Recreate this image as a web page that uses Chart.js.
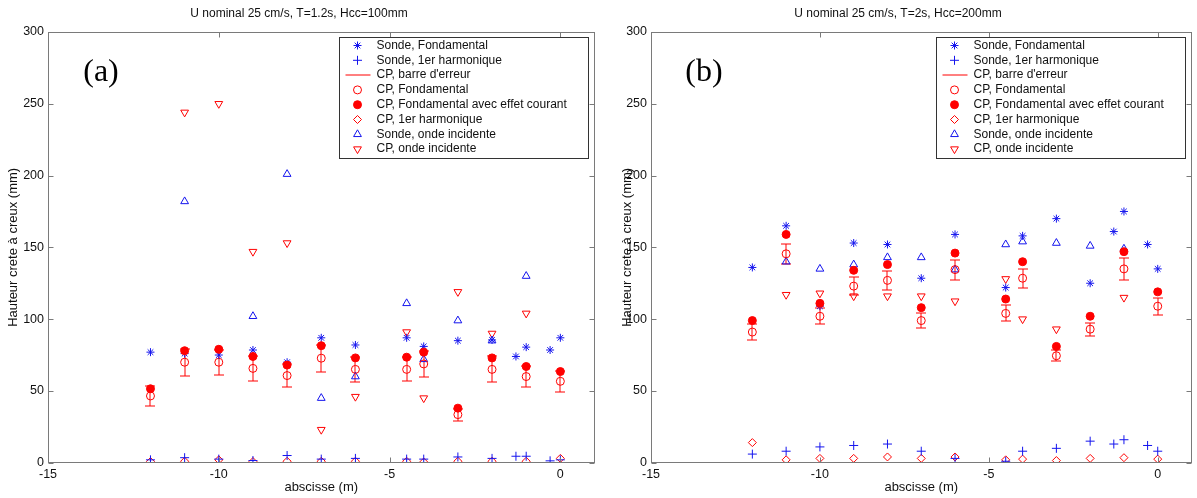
<!DOCTYPE html>
<html>
<head>
<meta charset="utf-8">
<script src="https://cdn.jsdelivr.net/npm/chart.js@4.4.0/dist/chart.umd.min.js"></script>
<style>
  html, body { margin: 0; padding: 0; background: #fff; }
  #cadre { position: relative; width: 1197px; height: 498px; }
  canvas { position: absolute; top: 0; }
  #grA { left: 0; }
  #grB { left: 600px; }
</style>
</head>
<body>
<div id="cadre">
  <canvas id="grA" width="600" height="498"></canvas>
  <canvas id="grB" width="597" height="498"></canvas>
</div>
<script>
// abscisses des points de mesure (m)
var xSonde = [-12, -11, -10, -9, -8, -7, -6, -4.5, -4, -3, -2, -1.3, -1, -0.3, 0];
var xCP = [-12, -11, -10, -9, -8, -7, -6, -4.5, -4, -3, -2, -1, 0];
var xTicks = [-15, -10, -5, 0];
var yTicks = [0, 50, 100, 150, 200, 250, 300];

var titres = ['U nominal 25 cm/s, T=1.2s, Hcc=100mm', 'U nominal 25 cm/s, T=2s, Hcc=200mm'];
var legendeTextes = ['Sonde, Fondamental', 'Sonde, 1er harmonique', "CP, barre d'erreur", 'CP, Fondamental',
  'CP, Fondamental avec effet courant', 'CP, 1er harmonique', 'Sonde, onde incidente', 'CP, onde incidente'];

// (a) T=1.2s, Hcc=100mm  -- sondes (sur xSonde)
var sondeFondA = [77, 76, 75, 78.5, 70, 87, 82, 87, 81, 85, 85.5, 74, 80.5, 78.5, 87];
var sondeHarmA = [2, 3.5, 2.5, 1.5, 5, 2.5, 3, 2.5, 2.5, 4, 3, 4.5, 4.5, 1.3, 2];
// CP (sur xCP)
var cpFondA = [46.5, 70, 70, 65.7, 60.7, 72.8, 65, 65, 68.8, 33.5, 65, 60, 56.7];
var cpErrA = [6.7, 9.3, 8.8, 8.5, 8, 9.5, 8.5, 8.4, 8.8, 4.2, 9, 7.5, 7.4];
var cpCourantA = [51.5, 78, 79, 74, 68, 81.5, 73, 73.5, 77, 38, 73, 67, 63.5];
var cpHarmA = [0.8, 1, 2, 0.8, 1, 1, 1, 1, 0.5, 1, 1, 1, 3];
var sondeIncA = [null, 182, null, 102, 201, 45, 60, 111, 72, 99, 85, 130, null];
var cpIncA = [null, 244, 250, 147, 153, 23, 46, 91, 45, 119, 90, 104, null];

// (b) T=2s, Hcc=200mm
var sondeFondB = [136, 165, 109, 153, 152, 128.5, 159, 122, 158, 170, 125, 161, 175, 152, 135];
var sondeHarmB = [6, 8, 11, 12, 13, 8, 3, 1, 8, 10, 15, 13, 16, 12, 8];
var cpFondB = [91, 145.5, 102, 123, 127, 99, 134.5, 104, 128.5, 74.5, 93, 135, 109];
var cpErrB = [5.5, 7, 5.5, 6, 6.5, 5, 7, 5.5, 6.5, 4, 4.6, 7.5, 6];
var cpCourantB = [99, 159, 111, 134, 138, 108, 146, 114, 140, 81, 102, 147, 119];
var cpHarmB = [14, 2, 3, 3, 4, 3, 4, 2, 2.5, 1.5, 3, 3.5, 2.5];
var sondeIncB = [null, 140, 135, 138, 143, 143, 134.5, 152, 154, 153, 151, 149, null];
var cpIncB = [null, 117, 118, 116, 116, 116, 112.5, 128, 100, 93, null, 115, null];

var BLEU = '#1414ee';
var ROUGE = '#ff0000';
var GRIS = '#7a7a7a';
var POLICE = '"Liberation Sans", Arial, sans-serif';

// styles des marqueurs, dans l'ordre de la légende
var styles = [
  { style: 'star', r: 4, color: BLEU, bg: 'transparent' },
  { style: 'cross', r: 4.5, color: BLEU, bg: 'transparent' },
  { line: true, color: ROUGE },
  { style: 'circle', r: 4, color: ROUGE, bg: 'transparent' },
  { style: 'circle', r: 4, color: ROUGE, bg: ROUGE },
  { style: 'rectRot', r: 4, color: ROUGE, bg: 'transparent' },
  { style: 'triangle', r: 4.5, color: BLEU, bg: 'transparent' },
  { style: 'triangle', r: 4.5, color: ROUGE, bg: 'transparent', rot: 180 }
];

function points(xs, ys) {
  var res = [];
  for (var i = 0; i < xs.length; i++) {
    if (ys[i] !== null) res.push({ x: xs[i], y: ys[i] });
  }
  return res;
}

function serie(idx, data) {
  var s = styles[idx];
  return {
    label: legendeTextes[idx],
    data: data,
    showLine: false,
    pointStyle: s.style,
    pointRadius: s.r,
    pointRotation: s.rot || 0,
    pointBorderColor: s.color,
    pointBackgroundColor: s.bg,
    pointBorderWidth: 1
  };
}

function dessinePoint(ctx, s, x, y) {
  ctx.fillStyle = s.bg;
  ctx.strokeStyle = s.color;
  ctx.lineWidth = 1;
  if (Chart.helpers && Chart.helpers.drawPoint) {
    Chart.helpers.drawPoint(ctx, { pointStyle: s.style, radius: s.r, rotation: s.rot || 0, borderWidth: 1 }, x, y);
  } else {
    ctx.beginPath();
    ctx.arc(x, y, s.r, 0, Math.PI * 2);
    ctx.fill();
    ctx.stroke();
  }
}

// barres d'erreur, dessinées sous les marqueurs
var barresErreur = {
  id: 'barresErreur',
  beforeDatasetsDraw: function (chart) {
    var o = chart.options.plugins.barresErreur;
    var ctx = chart.ctx, sx = chart.scales.x, sy = chart.scales.y;
    ctx.save();
    ctx.strokeStyle = ROUGE;
    ctx.lineWidth = 1;
    for (var i = 0; i < xCP.length; i++) {
      var px = Math.round(sx.getPixelForValue(xCP[i]));
      var y1 = Math.round(sy.getPixelForValue(o.valeurs[i] - o.erreurs[i]));
      var y2 = Math.round(sy.getPixelForValue(o.valeurs[i] + o.erreurs[i]));
      ctx.beginPath();
      ctx.moveTo(px, y1); ctx.lineTo(px, y2);
      ctx.moveTo(px - 5, y1); ctx.lineTo(px + 5, y1);
      ctx.moveTo(px - 5, y2); ctx.lineTo(px + 5, y2);
      ctx.stroke();
    }
    ctx.restore();
  }
};

// cadre de type matlab avec graduations vers l'intérieur, étiquette (a)/(b) et légende
var cadre = {
  id: 'cadre',
  afterDraw: function (chart) {
    var o = chart.options.plugins.cadre;
    var ctx = chart.ctx, ca = chart.chartArea, sx = chart.scales.x, sy = chart.scales.y;
    ctx.save();
    ctx.strokeStyle = GRIS;
    ctx.lineWidth = 1;
    var l = Math.round(ca.left) + 0.5, r = Math.round(ca.right) - 0.5;
    var t = Math.round(ca.top) + 0.5, b = Math.round(ca.bottom) - 0.5;
    ctx.strokeRect(l, t, r - l, b - t);
    ctx.beginPath();
    xTicks.forEach(function (v) {
      var px = Math.round(sx.getPixelForValue(v)) + 0.5;
      ctx.moveTo(px, b); ctx.lineTo(px, b - 5);
      ctx.moveTo(px, t); ctx.lineTo(px, t + 5);
    });
    yTicks.forEach(function (v) {
      var py = Math.round(sy.getPixelForValue(v)) + 0.5;
      ctx.moveTo(l, py); ctx.lineTo(l + 5, py);
      ctx.moveTo(r, py); ctx.lineTo(r - 5, py);
    });
    ctx.stroke();

    ctx.fillStyle = '#000';
    ctx.font = '32px "Liberation Serif", "Times New Roman", serif';
    ctx.textAlign = 'center';
    ctx.textBaseline = 'middle';
    ctx.fillText(o.etiquette, ca.left + 53, ca.top + 41);

    // légende
    var w = 249, h = 121;
    var lx = Math.round(ca.right - 7 - w) + 0.5, ly = Math.round(ca.top + 5) + 0.5;
    ctx.fillStyle = '#fff';
    ctx.fillRect(lx, ly, w, h);
    ctx.strokeStyle = '#333';
    ctx.strokeRect(lx, ly, w, h);
    ctx.font = '12px ' + POLICE;
    ctx.textAlign = 'left';
    for (var i = 0; i < legendeTextes.length; i++) {
      var yy = ly + 8 + i * 14.8;
      var s = styles[i];
      if (s.line) {
        ctx.strokeStyle = s.color;
        ctx.beginPath();
        ctx.moveTo(lx + 6, Math.round(yy));
        ctx.lineTo(lx + 31, Math.round(yy));
        ctx.stroke();
      } else {
        dessinePoint(ctx, s, lx + 18, yy);
      }
      ctx.fillStyle = '#111';
      ctx.fillText(legendeTextes[i], lx + 37, yy);
    }
    ctx.restore();
  }
};

function graphique(id, n, etiquette, d, largeurY, padTitreY, padDroite) {
  var ctx = document.getElementById(id).getContext('2d');
  return new Chart(ctx, {
    type: 'scatter',
    data: {
      datasets: [
        serie(4, points(xCP, d.courant)),
        serie(0, points(xSonde, d.sondeFond)),
        serie(3, points(xCP, d.cpFond)),
        serie(1, points(xSonde, d.sondeHarm)),
        serie(5, points(xCP, d.cpHarm)),
        serie(6, points(xCP, d.sondeInc)),
        serie(7, points(xCP, d.cpInc))
      ]
    },
    options: {
      responsive: false,
      animation: false,
      devicePixelRatio: 1,
      events: [],
      layout: { padding: { left: 0, right: padDroite, top: 0, bottom: 0 } },
      plugins: {
        legend: { display: false },
        tooltip: { enabled: false },
        title: {
          display: true,
          text: titres[n],
          color: '#111',
          font: { family: POLICE, size: 12, weight: 'normal' },
          padding: { top: 6, bottom: 11.6 }
        },
        barresErreur: { valeurs: d.cpFond, erreurs: d.err },
        cadre: { etiquette: etiquette }
      },
      scales: {
        x: {
          type: 'linear',
          min: -15,
          max: 1,
          grid: { display: false, drawTicks: false, tickLength: 0 },
          border: { display: false },
          afterBuildTicks: function (scale) { scale.ticks = xTicks.map(function (v) { return { value: v }; }); },
          afterFit: function (scale) { scale.height = 35.3; },
          ticks: { color: '#111', padding: 4, maxRotation: 0, font: { family: POLICE, size: 12.5 } },
          title: {
            display: true,
            text: 'abscisse (m)',
            color: '#111',
            font: { family: POLICE, size: 13 },
            padding: { top: 0, bottom: 2.5 }
          }
        },
        y: {
          type: 'linear',
          min: 0,
          max: 300,
          grid: { display: false, drawTicks: false, tickLength: 0 },
          border: { display: false },
          afterBuildTicks: function (scale) { scale.ticks = yTicks.map(function (v) { return { value: v }; }); },
          afterFit: function (scale) { scale.width = largeurY; },
          ticks: { color: '#111', padding: 4, font: { family: POLICE, size: 12.5 } },
          title: {
            display: true,
            text: 'Hauteur crete à creux (mm)',
            color: '#111',
            font: { family: POLICE, size: 13 },
            padding: { top: padTitreY, bottom: 0 }
          }
        }
      }
    },
    plugins: [barresErreur, cadre]
  });
}

graphique('grA', 0, '(a)', {
  sondeFond: sondeFondA, sondeHarm: sondeHarmA, cpFond: cpFondA, err: cpErrA,
  courant: cpCourantA, cpHarm: cpHarmA, sondeInc: sondeIncA, cpInc: cpIncA
}, 48, 6, 2);

graphique('grB', 1, '(b)', {
  sondeFond: sondeFondB, sondeHarm: sondeHarmB, cpFond: cpFondB, err: cpErrB,
  courant: cpCourantB, cpHarm: cpHarmB, sondeInc: sondeIncB, cpInc: cpIncB
}, 51, 20, 1);
</script>
</body>
</html>
